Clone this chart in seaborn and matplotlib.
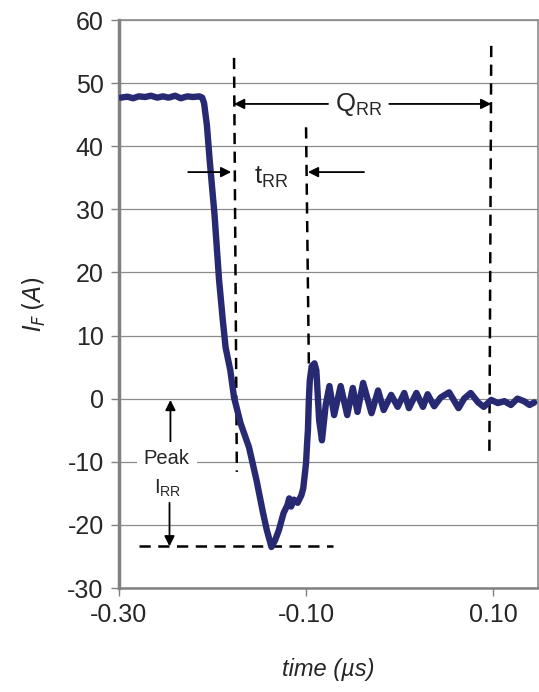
import matplotlib
matplotlib.use("Agg")
import matplotlib.pyplot as plt
import seaborn as sns

# reverse recovery current waveform
flat_t = [-0.298, -0.291, -0.285, -0.279, -0.272, -0.266, -0.259, -0.253, -0.247, -0.240,
          -0.234, -0.227, -0.221, -0.214, -0.211]
flat_i = [47.7, 47.85, 47.6, 47.9, 47.8, 48.0, 47.7, 47.9, 47.7, 48.0,
          47.6, 47.9, 47.8, 47.9, 47.7]

fall_t = [-0.209, -0.206, -0.203, -0.198, -0.193, -0.189, -0.186, -0.181, -0.177, -0.170,
          -0.161, -0.153, -0.146, -0.142, -0.137]
fall_i = [46.8, 43.3, 37.7, 29.4, 18.8, 12.4, 8.1, 4.5, 0.2, -3.9,
          -7.7, -12.9, -18.1, -20.8, -23.5]

rise_t = [-0.133, -0.129, -0.124, -0.120, -0.118, -0.116, -0.113, -0.109, -0.105, -0.103,
          -0.100, -0.099, -0.098, -0.097, -0.096, -0.094]
rise_i = [-22.4, -20.8, -18.1, -16.9, -15.8, -17.1, -16.0, -16.5, -15.3, -14.2,
          -10.2, -7.4, -5.0, -0.2, 2.9, 5.1]

ring_t = [-0.091, -0.089, -0.086, -0.083, -0.079, -0.075, -0.070, -0.063, -0.056, -0.050,
          -0.045, -0.039, -0.030, -0.023, -0.017, -0.009, -0.002, 0.005, 0.010, 0.018,
          0.025, 0.030, 0.037, 0.044, 0.053, 0.063, 0.069, 0.076, 0.084, 0.090,
          0.098, 0.105, 0.112, 0.119, 0.126, 0.133, 0.139, 0.144]
ring_i = [5.6, 4.5, -3.4, -6.6, -1.0, 2.0, -2.6, 2.0, -2.6, 1.7,
          -2.1, 2.5, -2.3, 1.3, -1.8, 0.6, -1.3, 0.9, -1.5, 0.9,
          -1.3, 0.7, -1.2, 0.2, 1.0, -1.5, 0.0, 0.9, -0.6, -1.3,
          -0.2, -0.7, -0.4, -1.0, 0.0, -0.4, -1.0, -0.6]

time_us = flat_t + fall_t + rise_t + ring_t
current_a = flat_i + fall_i + rise_i + ring_i

y_ticks = list(range(-30, 61, 10))
x_ticks = [-0.30, -0.10, 0.10]
x_tick_labels = ["-0.30", "-0.10", "0.10"]

peak_irr = -23.4

sns.set_theme(style="white")
plt.rcParams["font.family"] = ["Liberation Sans", "DejaVu Sans"]
plt.rcParams["mathtext.default"] = "regular"
plt.rcParams["axes.unicode_minus"] = False

fig = plt.figure(figsize=(5.39, 6.92), dpi=100)
ax = fig.add_axes([119 / 539, 1 - 588 / 692, 419 / 539, 568 / 692])

# horizontal grid
for yv in y_ticks:
    ax.axhline(yv, color="#8c8c8c", lw=0.9, zorder=0)

sns.lineplot(x=time_us, y=current_a, ax=ax, color="#272a72", lw=4.6,
             sort=False, estimator=None, zorder=3)

dash = (0, (4.5, 3))
kw = dict(color="black", lw=1.8, linestyle=dash, zorder=2)
ax.plot([-0.177, -0.174], [54.0, -11.6], **kw)
ax.plot([-0.100, -0.097], [43.0, 5.3], **kw)
ax.plot([0.098, 0.096], [55.9, -9.1], **kw)
ax.plot([-0.279, -0.071], [peak_irr, peak_irr], **kw)

arrow = dict(arrowstyle="-|>", color="black", lw=1.3, mutation_scale=15,
             shrinkA=0, shrinkB=0)
# Q_RR
ax.annotate("", xy=(-0.177, 46.7), xytext=(-0.0765, 46.7), arrowprops=arrow)
ax.annotate("", xy=(0.098, 46.7), xytext=(-0.011, 46.7), arrowprops=arrow)
ax.text(-0.044, 45.6, r"$Q_{RR}$", fontsize=18.5, ha="center", va="baseline")
# t_RR
ax.annotate("", xy=(-0.180, 35.9), xytext=(-0.226, 35.9), arrowprops=arrow)
ax.annotate("", xy=(-0.098, 35.9), xytext=(-0.038, 35.9), arrowprops=arrow)
ax.text(-0.137, 34.1, r"$t_{RR}$", fontsize=18.5, ha="center", va="baseline")
# Peak I_RR
ax.annotate("", xy=(-0.245, -0.2), xytext=(-0.245, -7.8), arrowprops=arrow)
ax.annotate("", xy=(-0.246, peak_irr), xytext=(-0.246, -16.5), arrowprops=arrow)
ax.text(-0.249, -10.4, "Peak", fontsize=14.5, ha="center", va="baseline",
        bbox=dict(boxstyle="square,pad=0.35", fc="white", ec="none"), zorder=4)
ax.text(-0.248, -15.0, r"$I_{RR}$", fontsize=14.5, ha="center", va="baseline")

ax.set_xlim(-0.30, 0.148)
ax.set_ylim(-30, 60)
ax.set_yticks(y_ticks)
ax.set_xticks(x_ticks)
ax.set_xticklabels(x_tick_labels)
ax.tick_params(axis="both", labelsize=18, direction="out", length=6, width=1,
               color="#808080", bottom=True, left=True, pad=5)

for side in ["top", "right"]:
    ax.spines[side].set_color("#8c8c8c")
    ax.spines[side].set_linewidth(1.2)
ax.spines["left"].set_color("#808080")
ax.spines["left"].set_linewidth(2.5)
ax.spines["bottom"].set_color("#808080")
ax.spines["bottom"].set_linewidth(1.8)

ax.set_xlabel("time (µs)", fontsize=17, style="italic", labelpad=22)
ax.set_ylabel(r"$\mathit{I_F}\,\mathit{(A)}$", fontsize=17, labelpad=14)

fig.savefig("out.png", dpi=100)
